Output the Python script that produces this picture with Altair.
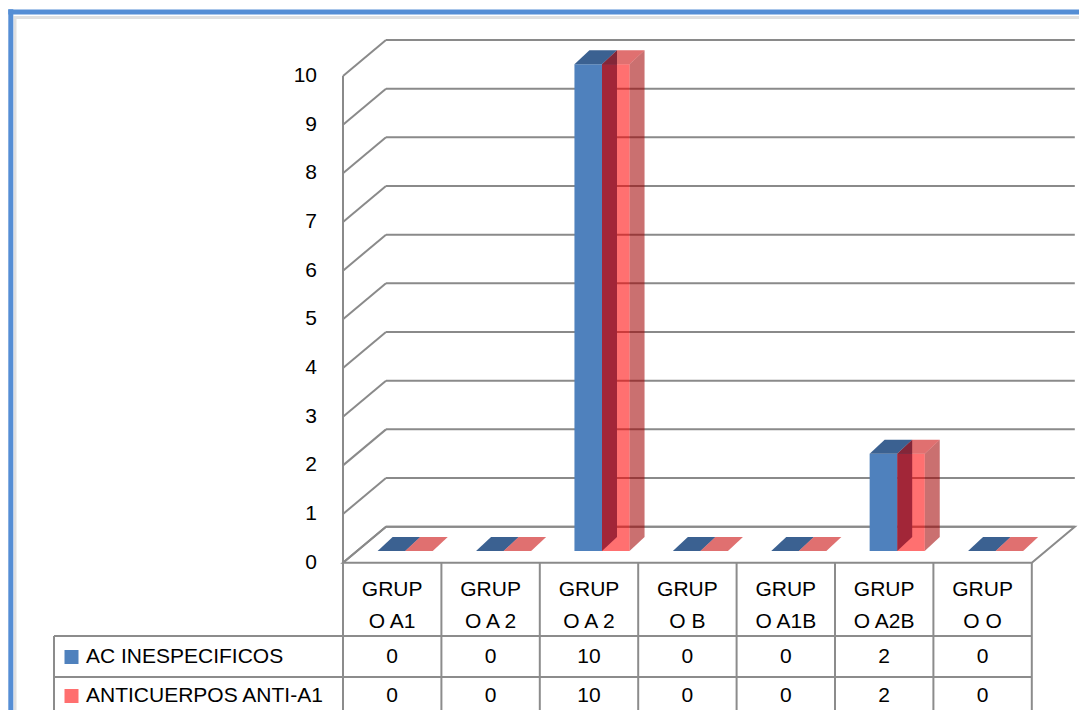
import altair as alt
import pandas as pd

# ---------------- data ----------------
categories = ["GRUPO A1", "GRUPO A 2", "GRUPO A 2", "GRUPO B", "GRUPO A1B", "GRUPO A2B", "GRUPO O"]
series_names = ["AC INESPECIFICOS", "ANTICUERPOS ANTI-A1"]
ac_inespecificos = [0, 0, 10, 0, 0, 2, 0]
anticuerpos_anti_a1 = [0, 0, 10, 0, 0, 2, 0]
y_ticks = [0, 1, 2, 3, 4, 5, 6, 7, 8, 9, 10]

# ---------------- layout (screen pixels) ----------------
M = 8
W, H = 1071, 702
X0, CW = 343.0, 98.4      # front-left corner of category axis, px per category
Y0, UH = 562.7, 48.67     # front baseline, px per value unit


def px(xs):
    return xs - M


def py(ys):
    return ys - M


XDOM = [(M - X0) / CW, (M + W - X0) / CW]
YDOM = [(Y0 - (M + H)) / UH, (Y0 - M) / UH]

FDX, FDY = 43 / CW, 36 / UH          # floor / wall depth
BOX, BOY = 13 / CW, 11.7 / UH        # bar front offset inside depth
BDX, BDY = 15 / CW, 14 / UH          # bar depth
CL_L, BW = 0.22, 0.28                # cluster start, bar width (category units)

FONT = "Liberation Sans"
FS = 21
GRID = "#8A8A8A"
TABLE = "#8C8C8C"

xs = alt.Scale(domain=XDOM, nice=False, zero=False)
ys = alt.Scale(domain=YDOM, nice=False, zero=False)


def X(f):
    return alt.X(f, scale=xs, axis=None, stack=None)


def Y(f):
    return alt.Y(f, scale=ys, axis=None, stack=None)


n = len(categories)
bars = pd.DataFrame({
    "i": list(range(n)) * 2,
    "cat": categories * 2,
    "s": [0] * n + [1] * n,
    "series": [series_names[0]] * n + [series_names[1]] * n,
    "value": ac_inespecificos + anticuerpos_anti_a1,
})
ticks = pd.DataFrame({"v": y_ticks})
cats = pd.DataFrame({"i": list(range(n)), "cat": categories})
edges = pd.DataFrame({"u": list(range(n + 1))})
one = pd.DataFrame({"k": [0]})
two = pd.DataFrame({"k": [0, 1]})

layers = []

# ---- floor ----
floor = alt.Chart(two).transform_calculate(
    fy=f"datum.k*{FDY}", fx=f"datum.k*{FDX}", fx2=f"{n} + datum.k*{FDX}"
).mark_area(orient="horizontal", fill="white", stroke=GRID, strokeWidth=2).encode(
    y=Y("fy:Q"), x=X("fx:Q"), x2="fx2:Q"
)
layers.append(floor)

# ---- back wall gridlines ----
grid = alt.Chart(ticks).transform_calculate(
    gy=f"datum.v + {FDY}", gx=f"{FDX}", gx2=f"{n} + {FDX}"
).mark_rule(color=GRID, strokeWidth=2).encode(x=X("gx:Q"), x2="gx2:Q", y=Y("gy:Q"))
layers.append(grid)

# ---- left wall diagonals ----
diag = alt.Chart(ticks).transform_calculate(
    dx="0", dx2=f"{FDX}", dy2=f"datum.v + {FDY}"
).mark_rule(color=GRID, strokeWidth=2).encode(x=X("dx:Q"), x2="dx2:Q", y=Y("v:Q"), y2="dy2:Q")
layers.append(diag)

# ---- left wall front vertical ----
wall = alt.Chart(ticks).transform_aggregate(
    vmin="min(v)", vmax="max(v)"
).transform_calculate(wx="0").mark_rule(color=GRID, strokeWidth=2).encode(
    x=X("wx:Q"), y=Y("vmin:Q"), y2="vmax:Q"
)
layers.append(wall)

# ---- 3D bars ----
FACES = {
    0: dict(front="#4F81BD", top="#3B6191", side="#2C5781", op=1.0),
    1: dict(front="#FF0000", top="#C80000", side="#A00000", op=0.56),
}
base = alt.Chart(bars).transform_calculate(
    uL=f"datum.i + {CL_L} + {BW}*datum.s",
    uR=f"datum.i + {CL_L} + {BW}*(datum.s + 1)",
)
for s in (0, 1):
    f = FACES[s]
    side = base.transform_filter(f"datum.s == {s} && datum.value > 0").transform_calculate(
        k="[0, 1]"
    ).transform_flatten(["k"]).transform_calculate(
        sx=f"datum.uR + {BOX} + datum.k*{BDX}",
        sy=f"{BOY} + datum.k*{BDY}",
        sy2=f"datum.value + {BOY} + datum.k*{BDY}",
    ).mark_area(orient="vertical", color=f["side"], opacity=f["op"]).encode(
        x=X("sx:Q"), y=Y("sy:Q"), y2="sy2:Q", detail="i:N"
    )
    front = base.transform_filter(f"datum.s == {s} && datum.value > 0").transform_calculate(
        fx=f"datum.uL + {BOX}", fx2=f"datum.uR + {BOX}",
        fy=f"{BOY}", fy2=f"datum.value + {BOY}",
    ).mark_rect(color=f["front"], opacity=f["op"]).encode(
        x=X("fx:Q"), x2="fx2:Q", y=Y("fy:Q"), y2="fy2:Q"
    )
    top = base.transform_filter(f"datum.s == {s}").transform_calculate(
        k="[0, 1]"
    ).transform_flatten(["k"]).transform_calculate(
        ty=f"datum.value + {BOY} + datum.k*{BDY}",
        tx=f"datum.uL + {BOX} + datum.k*{BDX}",
        tx2=f"datum.uR + {BOX} + datum.k*{BDX}",
    ).mark_area(orient="horizontal", color=f["top"], opacity=f["op"]).encode(
        y=Y("ty:Q"), x=X("tx:Q"), x2="tx2:Q", detail="i:N"
    )
    layers += [side, front, top]

# ---- y axis labels ----
ylab = alt.Chart(ticks).mark_text(
    align="right", baseline="middle", font=FONT, fontSize=FS, color="black"
).encode(x=alt.value(px(317)), y=Y("v:Q"), text="v:Q")
layers.append(ylab)

# ---- data table ----
hdr = alt.Chart(cats).transform_calculate(
    uc="datum.i + 0.5",
    label="substring(datum.cat, 0, 4) + '\\n' + substring(datum.cat, 4)",
).mark_text(
    align="center", baseline="middle", font=FONT, fontSize=FS, color="black",
    lineBreak="\n", lineHeight=32.5,
).encode(x=X("uc:Q"), y=alt.value(py(589.5)), text="label:N")
layers.append(hdr)

row_y = {0: 657, 1: 696}
leg_col = {0: "#4F81BD", 1: "#FF6F6F"}
for s in (0, 1):
    vals = alt.Chart(bars).transform_filter(f"datum.s == {s}").transform_calculate(
        uc="datum.i + 0.5"
    ).mark_text(
        align="center", baseline="middle", font=FONT, fontSize=FS, color="black"
    ).encode(x=X("uc:Q"), y=alt.value(py(row_y[s])), text="value:Q")
    key = alt.Chart(one).mark_square(size=196, color=leg_col[s], opacity=1).encode(
        x=alt.value(px(71.5)), y=alt.value(py(row_y[s]))
    )
    name = alt.Chart(one).transform_calculate(t=f"'{series_names[s]}'").mark_text(
        align="left", baseline="middle", font=FONT, fontSize=FS, color="black"
    ).encode(x=alt.value(px(86)), y=alt.value(py(row_y[s])), text="t:N")
    layers += [vals, key, name]

# table lines
cols = alt.Chart(edges).mark_rule(color=TABLE, strokeWidth=2).encode(
    x=X("u:Q"), y=alt.value(py(Y0)), y2=alt.value(py(715))
)
layers.append(cols)
for yy in (636, 677, 715):
    layers.append(
        alt.Chart(one).mark_rule(color=TABLE, strokeWidth=2).encode(
            x=alt.value(px(54)), x2=alt.value(px(X0 + n * CW)), y=alt.value(py(yy))
        )
    )
layers.append(
    alt.Chart(one).mark_rule(color=TABLE, strokeWidth=2).encode(
        x=alt.value(px(54)), y=alt.value(py(636)), y2=alt.value(py(715))
    )
)

# ---- chart frame (blue border, left & top) ----
layers.append(
    alt.Chart(one).mark_rule(color="#E0E0E0", strokeWidth=3).encode(
        x=alt.value(7), y=alt.value(8), y2=alt.value(H)
    )
)
layers.append(
    alt.Chart(one).mark_rule(color="#E0E0E0", strokeWidth=3).encode(
        x=alt.value(7), x2=alt.value(W), y=alt.value(9.5)
    )
)
layers.append(
    alt.Chart(one).mark_rule(color="#558ED5", strokeWidth=5).encode(
        x=alt.value(2.8), y=alt.value(1.3), y2=alt.value(H)
    )
)
layers.append(
    alt.Chart(one).mark_rule(color="#558ED5", strokeWidth=5).encode(
        x=alt.value(0.3), x2=alt.value(W), y=alt.value(4.0)
    )
)

chart = alt.layer(*layers).properties(
    width=W, height=H, padding=0, autosize=alt.AutoSizeParams(type="none"), background="white"
).configure_view(stroke=None)

chart.save("out.html", embed_options={"renderer": "svg", "actions": False})
